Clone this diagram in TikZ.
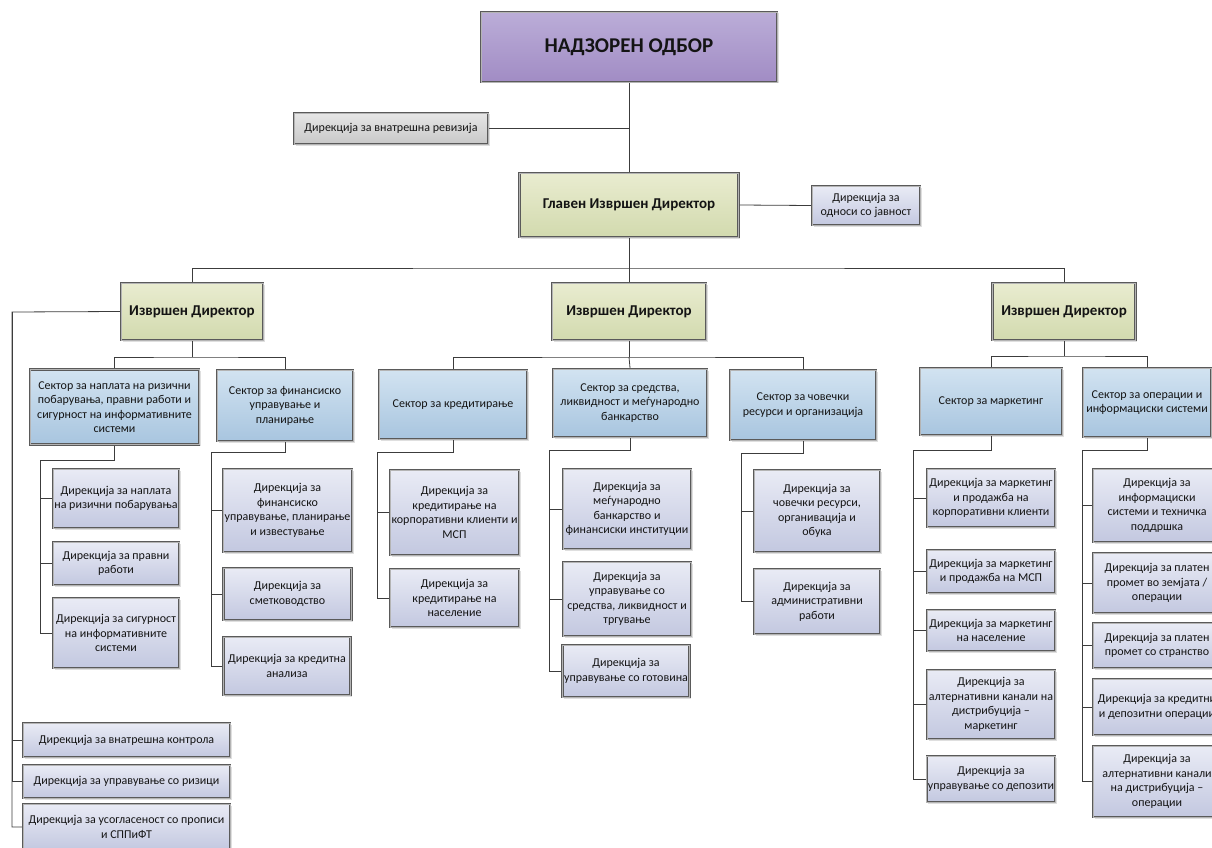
\documentclass[tikz,border=0pt]{standalone}
\usepackage{fontspec}
\setmainfont{Carlito}
\usetikzlibrary{shadows}
\definecolor{bordc}{HTML}{5A5A5A}
\definecolor{dblc}{HTML}{B4B4B4}
\definecolor{txt}{HTML}{141414}
\definecolor{connc}{HTML}{3C3C3C}
\definecolor{purT}{HTML}{BBADD8}
\definecolor{purB}{HTML}{A18CC4}
\definecolor{gryT}{HTML}{E6E6E6}
\definecolor{gryB}{HTML}{C8C8C8}
\definecolor{grnT}{HTML}{E9ECD0}
\definecolor{grnB}{HTML}{D2DAAE}
\definecolor{bluT}{HTML}{D2E3F1}
\definecolor{bluB}{HTML}{A8C5DF}
\definecolor{lavT}{HTML}{E9EBF5}
\definecolor{lavB}{HTML}{C3C8E0}
\newcommand{\orgbox}[7]{\node[#2, minimum width=#5pt, minimum height=#6pt] (#1) at (#3,#4) {#7};}
\tikzset{
  box/.style={draw=bordc, line width=2.4pt,
    postaction={draw=dblc, line width=0.9pt},
    shading=axis, align=center, inner sep=1pt, text=txt,
    font=\fontsize{12}{14.5}\selectfont,
    drop shadow={shadow xshift=1.5pt, shadow yshift=-1.5pt, opacity=0.25}},
  topbox/.style={box, top color=purT, bottom color=purB, font=\fontsize{21}{25}\selectfont\bfseries},
  revbox/.style={box, top color=gryT, bottom color=gryB},
  dirgbox/.style={box, top color=grnT, bottom color=grnB, font=\fontsize{15}{18}\selectfont\bfseries},
  secbox/.style={box, top color=bluT, bottom color=bluB},
  dirbox/.style={box, top color=lavT, bottom color=lavB},
  conn/.style={draw=connc, line width=0.8pt},
}
\begin{document}
\begin{tikzpicture}[x=1pt, y={(0pt,-1pt)}]
\useasboundingbox (0,0) rectangle (1212,848);
\clip (0,0) rectangle (1212,848);
\fill[white] (0,0) rectangle (1212,848);
% top levels
\orgbox{nadz}{topbox}{629}{47}{296}{70}{НАДЗОРЕН ОДБОР}
\orgbox{rev}{revbox}{391}{128.5}{194}{31}{Дирекција за внатрешна ревизија}
\orgbox{gid}{dirgbox}{629}{205}{219}{64}{Главен Извршен Директор}
\orgbox{odn}{dirbox}{866}{205.5}{108}{39}{Дирекција за\\односи со јавност}
% executive directors
\orgbox{id1}{dirgbox}{192}{311.5}{142}{57}{Извршен Директор}
\orgbox{id2}{dirgbox}{629}{311.5}{154}{57}{Извршен Директор}
\orgbox{id3}{dirgbox}{1064}{311.5}{143}{57}{Извршен Директор}
% sectors
\orgbox{s11}{secbox}{114.5}{407}{169}{75}{Сектор за наплата на ризични\\побарувања, правни работи и\\сигурност на информативните\\системи}
\orgbox{s12}{secbox}{285}{405.5}{136}{71}{Сектор за финансиско\\управување и\\планирање}
\orgbox{s21}{secbox}{453}{404.5}{148}{69}{Сектор за кредитирање}
\orgbox{s22}{secbox}{630}{403}{154}{68}{Сектор за средства,\\ликвидност и меѓународно\\банкарство}
\orgbox{s23}{secbox}{803}{405}{146}{70}{Сектор за човечки\\ресурси и организација}
\orgbox{s31}{secbox}{991}{401.5}{142}{67}{Сектор за маркетинг}
\orgbox{s32}{secbox}{1147}{402.5}{128}{69}{Сектор за операции и\\информациски системи}
% directorates, sector 1.1
\orgbox{d111}{dirbox}{116}{498.5}{126}{59}{Дирекција за наплата\\на ризични побарувања}
\orgbox{d112}{dirbox}{116}{563.5}{126}{43}{Дирекција за правни\\работи}
\orgbox{d113}{dirbox}{116}{633}{126}{70}{Дирекција за сигурност\\на информативните\\системи}
% sector 1.2
\orgbox{d121}{dirbox}{287.5}{510.5}{129}{83}{Дирекција за\\финансиско\\управување, планирање\\и известување}
\orgbox{d122}{dirbox}{287.5}{594}{128}{52}{Дирекција за\\сметководство}
\orgbox{d123}{dirbox}{287}{666}{127}{58}{Дирекција за кредитна\\анализа}
% under ED 1 directly
\orgbox{c1}{dirbox}{126.5}{740}{207}{34}{Дирекција за внатрешна контрола}
\orgbox{c2}{dirbox}{126.5}{781.5}{207}{33}{Дирекција за управување со ризици}
\orgbox{c3}{dirbox}{126.5}{827}{207}{46}{Дирекција за усогласеност со прописи\\и СППиФТ}
% sector 2.1
\orgbox{d211}{dirbox}{454.5}{512.5}{129}{85}{Дирекција за\\кредитирање на\\корпоративни клиенти и\\МСП}
\orgbox{d212}{dirbox}{454.5}{598}{129}{58}{Дирекција за\\кредитирање на\\население}
% sector 2.2
\orgbox{d221}{dirbox}{627}{509}{128}{80}{Дирекција за\\меѓународно\\банкарство и\\финансиски институции}
\orgbox{d222}{dirbox}{627}{599}{128}{74}{Дирекција за\\управување со\\средства, ликвидност и\\тргување}
\orgbox{d223}{dirbox}{626}{671}{127}{52}{Дирекција за\\управување со готовина}
% sector 2.3
\orgbox{d231}{dirbox}{817}{511}{126}{82}{Дирекција за\\човечки ресурси,\\органивација и\\обука}
\orgbox{d232}{dirbox}{817}{601.5}{126}{65}{Дирекција за\\административни\\работи}
% sector 3.1
\orgbox{d311}{dirbox}{991}{498}{128}{58}{Дирекција за маркетинг\\и продажба на\\корпоративни клиенти}
\orgbox{d312}{dirbox}{991}{571.5}{128}{43}{Дирекција за маркетинг\\и продажба на МСП}
\orgbox{d313}{dirbox}{991}{630.5}{128}{41}{Дирекција за маркетинг\\на население}
\orgbox{d314}{dirbox}{991}{704.5}{128}{69}{Дирекција за\\алтернативни канали на\\дистрибуција –\\маркетинг}
\orgbox{d315}{dirbox}{991}{779}{128}{46}{Дирекција за\\управување со депозити}
% sector 3.2
\orgbox{d321}{dirbox}{1157}{505.5}{128}{73}{Дирекција за\\информациски\\системи и техничка\\поддршка}
\orgbox{d322}{dirbox}{1157}{583}{128}{60}{Дирекција за платен\\промет во земјата /\\операции}
\orgbox{d323}{dirbox}{1157}{645.5}{128}{45}{Дирекција за платен\\промет со странство}
\orgbox{d324}{dirbox}{1157}{707}{128}{56}{Дирекција за кредитни\\и депозитни операции}
\orgbox{d325}{dirbox}{1157}{781.5}{128}{71}{Дирекција за\\алтернативни канали\\на дистрибуција –\\операции}
% connectors, top
\draw[conn] (nadz.south) -- (gid.north);
\draw[conn] (rev.east) -- (rev.east -| nadz.south);
\draw[conn] (gid.east) -- (odn.west);
\coordinate (bus0) at (629,268);
\draw[conn] (gid.south) -- (bus0);
\draw[conn] (id1.north) |- (bus0) -| (id3.north);
\draw[conn] (bus0) -- (id2.north);
% ED 1
\coordinate (bus1) at (192,357);
\draw[conn] (id1.south) -- (bus1);
\draw[conn] (s11.north) |- (bus1) -| (s12.north);
\coordinate (sp0) at (12,312);
\draw[conn] (id1.west) -- (sp0) |- (c3.west);
\draw[conn] (sp0) |- (c1.west);
\draw[conn] (sp0) |- (c2.west);
\coordinate (sp11) at (40,460);
\draw[conn] (s11.south) |- (sp11) |- (d113.west);
\draw[conn] (sp11) |- (d111.west);
\draw[conn] (sp11) |- (d112.west);
\coordinate (sp12) at (211,452);
\draw[conn] (s12.south) |- (sp12) |- (d123.west);
\draw[conn] (sp12) |- (d121.west);
\draw[conn] (sp12) |- (d122.west);
% ED 2
\coordinate (bus2) at (629,357);
\draw[conn] (id2.south) -- (bus2);
\draw[conn] (s21.north) |- (bus2) -| (s23.north);
\draw[conn] (bus2) -- (s22.north);
\coordinate (sp21) at (377,452);
\draw[conn] (s21.south) |- (sp21) |- (d212.west);
\draw[conn] (sp21) |- (d211.west);
\coordinate (sp22) at (549,450);
\draw[conn] (s22.south) |- (sp22) |- (d223.west);
\draw[conn] (sp22) |- (d221.west);
\draw[conn] (sp22) |- (d222.west);
\coordinate (sp23) at (741,453);
\draw[conn] (s23.south) |- (sp23) |- (d232.west);
\draw[conn] (sp23) |- (d231.west);
% ED 3
\coordinate (bus3) at (1064,356);
\draw[conn] (id3.south) -- (bus3);
\draw[conn] (s31.north) |- (bus3) -| (s32.north);
\coordinate (sp31) at (913,450);
\draw[conn] (s31.south) |- (sp31) |- (d315.west);
\draw[conn] (sp31) |- (d311.west);
\draw[conn] (sp31) |- (d312.west);
\draw[conn] (sp31) |- (d313.west);
\draw[conn] (sp31) |- (d314.west);
\coordinate (sp32) at (1082,450);
\draw[conn] (s32.south) |- (sp32) |- (d325.west);
\draw[conn] (sp32) |- (d321.west);
\draw[conn] (sp32) |- (d322.west);
\draw[conn] (sp32) |- (d323.west);
\draw[conn] (sp32) |- (d324.west);
\end{tikzpicture}
\end{document}
